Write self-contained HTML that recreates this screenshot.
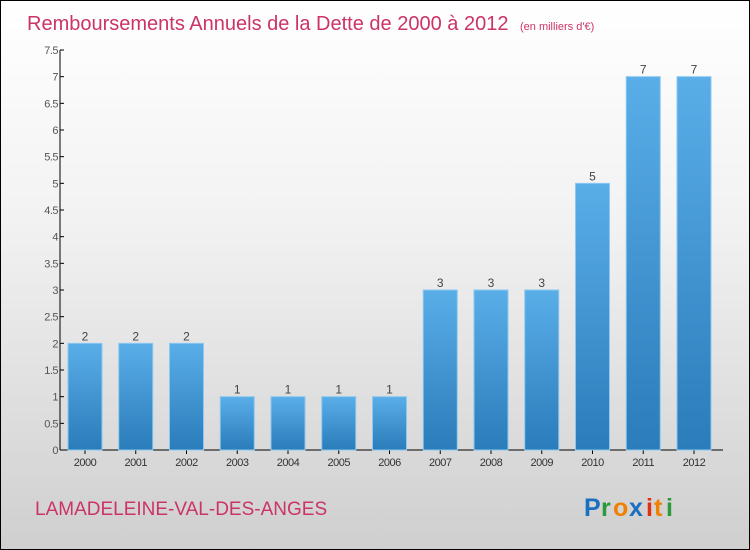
<!DOCTYPE html>
<html><head><meta charset="utf-8"><style>
body{margin:0}
#c{width:748px;height:548px;border:1px solid #000;background:linear-gradient(#ffffff,#f2f2f2 40%,#cfcfcf);position:relative;overflow:hidden;font-family:"Liberation Sans",sans-serif}
</style></head><body>
<div id="c">
<svg width="748" height="548" id="s">
<defs><linearGradient id="g" x1="0" y1="0" x2="0" y2="1"><stop offset="0" stop-color="#5aaee8"/><stop offset="1" stop-color="#2a7cba"/></linearGradient></defs>
<text x="26" y="29" font-size="20" fill="#cc3366">Remboursements Annuels de la Dette de 2000 à 2012 <tspan font-size="11" dx="6">(en milliers d'€)</tspan></text>
<text x="34" y="514" font-size="19" fill="#cc3366">LAMADELEINE-VAL-DES-ANGES</text>
<g font-size="25" font-weight="bold"><text x="583" y="515" fill="#1a6fc0">P</text><text x="600" y="515" fill="#2a9a3a">r</text><text x="612" y="515" fill="#f08000">o</text><text x="628" y="515" fill="#1a6fc0">x</text><text x="645" y="515" fill="#e03010">i</text><text x="653" y="515" fill="#f08000">t</text><text x="665" y="515" fill="#2a9a3a">i</text></g>
<g id="ax"></g><g id="bars"></g>
</svg></div>
<script>
const years=["2000","2001","2002","2003","2004","2005","2006","2007","2008","2009","2010","2011","2012"];
const values=[2,2,2,1,1,1,1,3,3,3,5,7,7];
const ticks=[0,0.5,1,1.5,2,2.5,3,3.5,4,4.5,5,5.5,6,6.5,7,7.5];
const NS="http://www.w3.org/2000/svg";
const y0=449,yTop=49,vmax=7.5,x0=59,step=50.75,bw=34;
const Y=v=>y0-(v/vmax)*(y0-yTop);
const X=i=>x0+25+i*step;
function mk(t,a,p){const e=document.createElementNS(NS,t);for(const k in a)e.setAttribute(k,a[k]);p.appendChild(e);return e;}
const ax=document.getElementById('ax'),bg=document.getElementById('bars');
let l=mk('line',{x1:x0,y1:yTop,x2:x0,y2:y0,stroke:'#000'},ax);


l=mk('line',{x1:x0,y1:y0,x2:722,y2:y0,stroke:'#000'},ax);


ticks.forEach(t=>{
 const y=Y(t);
 mk('line',{x1:x0,y1:y,x2:x0+4,y2:y,stroke:'#000'},ax);
 const tx=mk('text',{x:x0-2,y:y+4,'font-size':11,fill:'#555','text-anchor':'end','letter-spacing':'-0.5'},ax);
 tx.textContent=String(t);
 
 
});
years.forEach((yr,i)=>{
 const cx=X(i),v=values[i];
 const r=mk('rect',{x:cx-bw/2,y:Y(v),width:bw,height:y0-Y(v),fill:'url(#g)',stroke:'#8cc8f0','stroke-width':1},bg);
 
 
 mk('line',{x1:cx,y1:y0,x2:cx,y2:y0+4,stroke:'#000'},ax);
 const t=mk('text',{x:cx,y:y0+16,'font-size':11,fill:'#333','text-anchor':'middle','letter-spacing':'-0.5'},ax);
 t.textContent=yr;
 
 
 const vl=mk('text',{x:cx,y:Y(v)-3,'font-size':12,fill:'#444','text-anchor':'middle'},bg);
 vl.textContent=String(v);
 
 
});
</script>
</body></html>
